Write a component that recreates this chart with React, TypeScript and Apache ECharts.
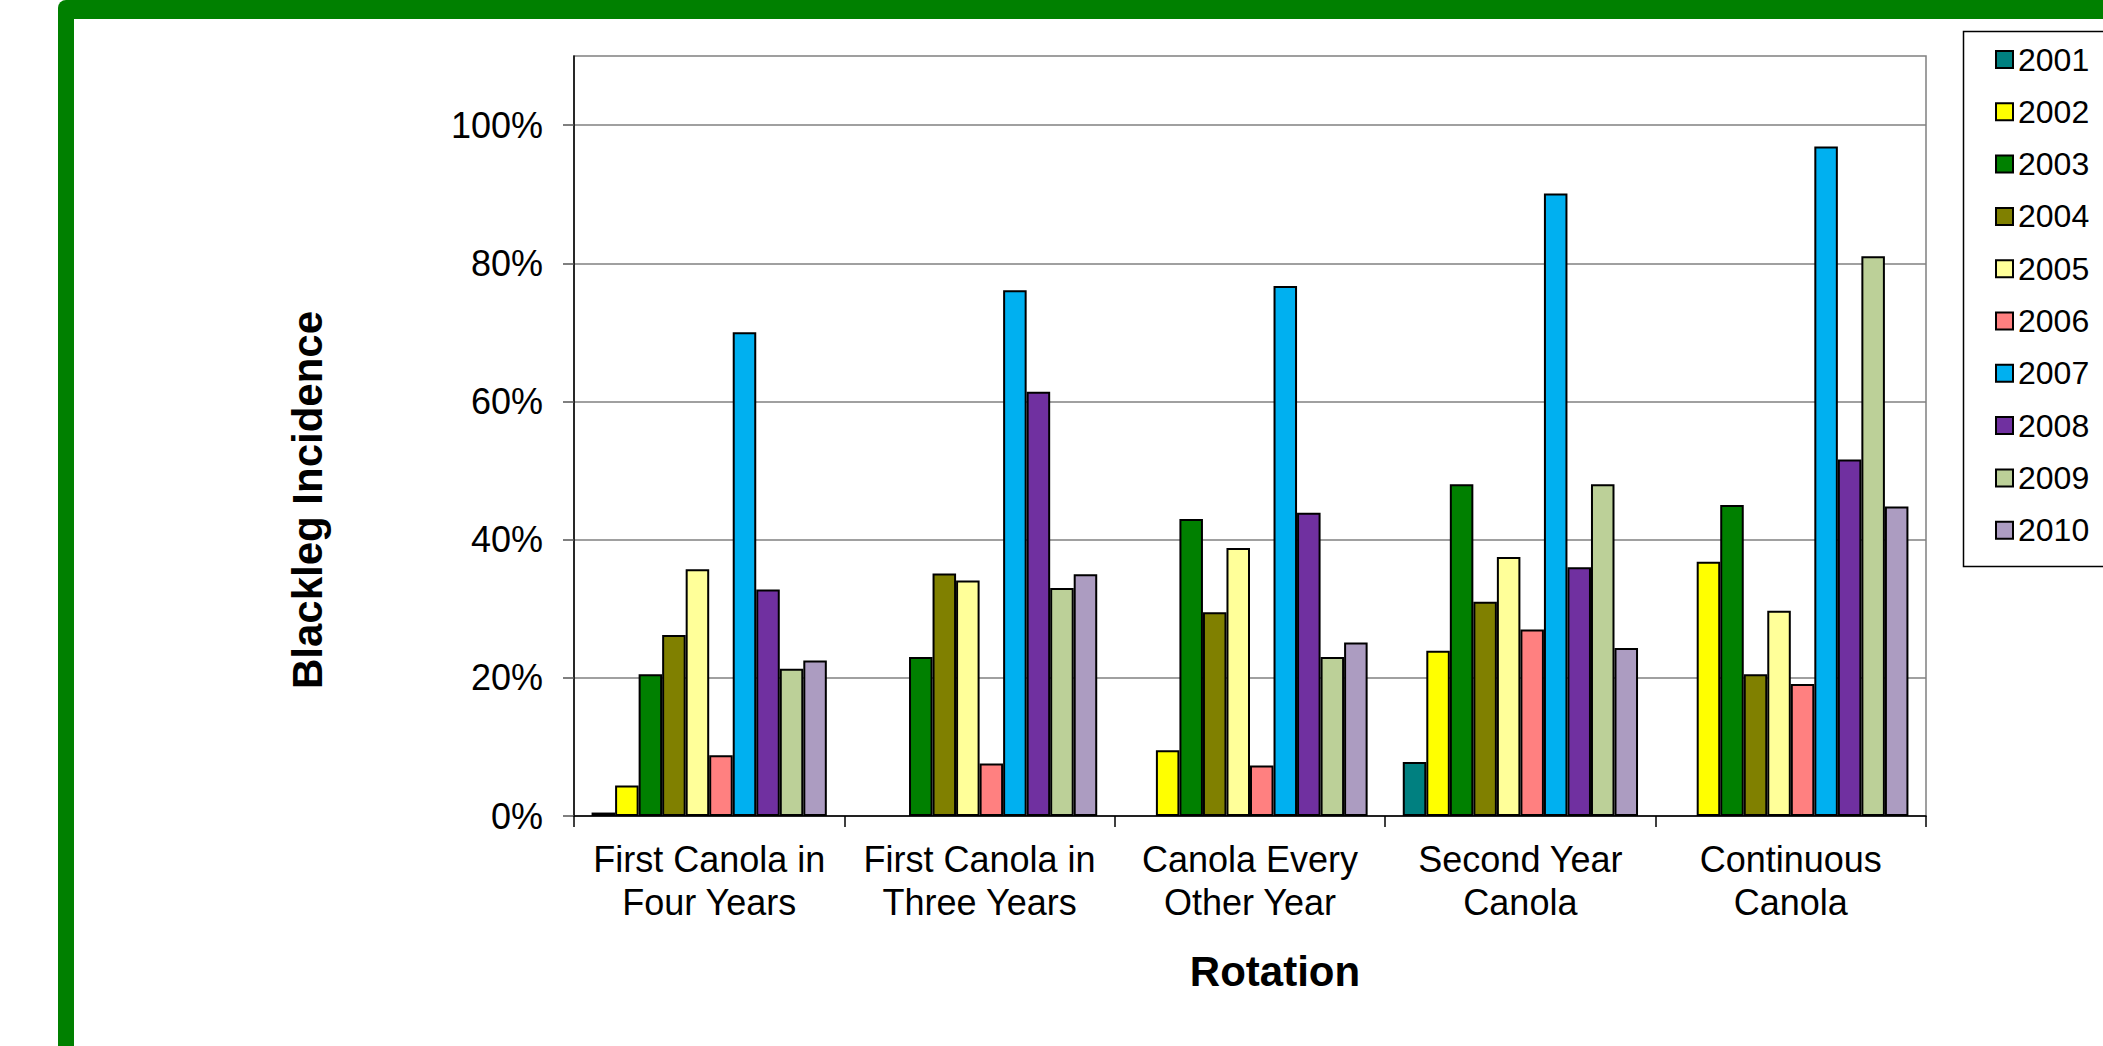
import React, { useEffect, useRef } from 'react';
import * as echarts from 'echarts';

const categories = [
  'First Canola in\nFour Years',
  'First Canola in\nThree Years',
  'Canola Every\nOther Year',
  'Second Year\nCanola',
  'Continuous\nCanola',
];

const years = ['2001', '2002', '2003', '2004', '2005', '2006', '2007', '2008', '2009', '2010'];

const colors = [
  '#008080', '#FFFF00', '#008000', '#808000', '#FFFF99',
  '#FF8080', '#00B0F0', '#7030A0', '#BCD098', '#AC9CC1',
];

const v2001 = [0.005, null, null, 0.078, null];
const v2002 = [0.044, null, 0.095, 0.239, 0.368];
const v2003 = [0.205, 0.23, 0.43, 0.48, 0.45];
const v2004 = [0.262, 0.351, 0.295, 0.31, 0.205];
const v2005 = [0.357, 0.341, 0.388, 0.375, 0.297];
const v2006 = [0.088, 0.076, 0.073, 0.27, 0.191];
const v2007 = [0.7, 0.761, 0.767, 0.901, 0.969];
const v2008 = [0.328, 0.614, 0.439, 0.36, 0.516];
const v2009 = [0.213, 0.33, 0.23, 0.48, 0.81];
const v2010 = [0.225, 0.35, 0.251, 0.243, 0.448];

const seriesValues = [v2001, v2002, v2003, v2004, v2005, v2006, v2007, v2008, v2009, v2010];

const yTickValues = [0, 0.2, 0.4, 0.6, 0.8, 1.0];

const FONT = '"Liberation Sans", Arial, sans-serif';

export default function App() {
  const ref = useRef<HTMLDivElement>(null);

  useEffect(() => {
    if (!ref.current) return;
    const chart = echarts.init(ref.current, null, { renderer: 'svg' });
    const option: any = {
      animation: false,
      backgroundColor: '#ffffff',
      textStyle: { fontFamily: FONT, color: '#000' },
      grid: {
        left: 574,
        top: 56,
        width: 1352,
        height: 760,
        show: true,
        borderColor: '#808080',
        borderWidth: 1.5,
        backgroundColor: 'transparent',
      },
      legend: {
        orient: 'vertical',
        left: 1995,
        top: 43.5,
        padding: 0,
        itemGap: 20.3,
        itemWidth: 17,
        itemHeight: 17,
        icon: 'rect',
        itemStyle: { borderColor: '#000', borderWidth: 2 },
        textStyle: { fontSize: 32, color: '#000', lineHeight: 32, fontFamily: FONT },
        data: years,
      },
      xAxis: {
        type: 'category',
        data: categories,
        axisLine: { show: true, lineStyle: { color: '#000', width: 1.5 } },
        axisTick: { show: true, length: 11, lineStyle: { color: '#000', width: 1.5 } },
        axisLabel: {
          interval: 0,
          fontSize: 36,
          lineHeight: 43,
          margin: 22,
          color: '#000',
          fontFamily: FONT,
        },
        splitLine: { show: false },
      },
      yAxis: {
        type: 'value',
        min: 0,
        max: 1.1,
        interval: 0.2,
        axisLine: { show: true, lineStyle: { color: '#000', width: 1.5 } },
        axisTick: {
          show: true,
          length: 11,
          customValues: yTickValues,
          lineStyle: { color: '#555', width: 1.5 },
        },
        axisLabel: {
          fontSize: 36,
          color: '#000',
          margin: 31,
          showMaxLabel: false,
          fontFamily: FONT,
          formatter: (v: number) => (v > 1.05 ? '' : Math.round(v * 100) + '%'),
        },
        splitLine: { show: true, lineStyle: { color: '#808080', width: 1.5 } },
      },
      series: years.map((y, i) => ({
        name: y,
        type: 'bar',
        data: seriesValues[i],
        barGap: '0%',
        barCategoryGap: '13%',
        itemStyle: { color: colors[i], borderColor: '#000', borderWidth: 2 },
      })),
      graphic: [
        {
          type: 'rect',
          silent: true,
          shape: { x: 66, y: 8, width: 2200, height: 1200, r: 8 },
          style: { fill: 'none', stroke: '#008000', lineWidth: 16 },
        },
        {
          type: 'rect',
          silent: true,
          shape: { x: 58, y: 0, width: 2100, height: 19, r: [8, 0, 0, 0] },
          style: { fill: '#008000' },
        },
        {
          type: 'rect',
          silent: true,
          shape: { x: 1963.5, y: 31.5, width: 300, height: 535 },
          style: { fill: 'none', stroke: '#000', lineWidth: 1.5 },
        },
        {
          type: 'text',
          x: 307,
          y: 500,
          rotation: Math.PI / 2,
          style: {
            text: 'Blackleg Incidence',
            fontSize: 42,
            fontWeight: 'bold',
            fontFamily: FONT,
            fill: '#000',
            align: 'center',
            verticalAlign: 'middle',
            textAlign: 'center',
            textVerticalAlign: 'middle',
          },
        },
        {
          type: 'text',
          x: 1275,
          y: 971,
          style: {
            text: 'Rotation',
            fontSize: 42,
            fontWeight: 'bold',
            fontFamily: FONT,
            fill: '#000',
            align: 'center',
            verticalAlign: 'middle',
            textAlign: 'center',
            textVerticalAlign: 'middle',
          },
        },
      ],
    };
    chart.setOption(option);
    return () => {
      chart.dispose();
    };
  }, []);

  return (
    <div
      ref={ref}
      style={{ position: 'fixed', left: 0, top: 0, width: 2103, height: 1046, background: '#fff' }}
    />
  );
}
